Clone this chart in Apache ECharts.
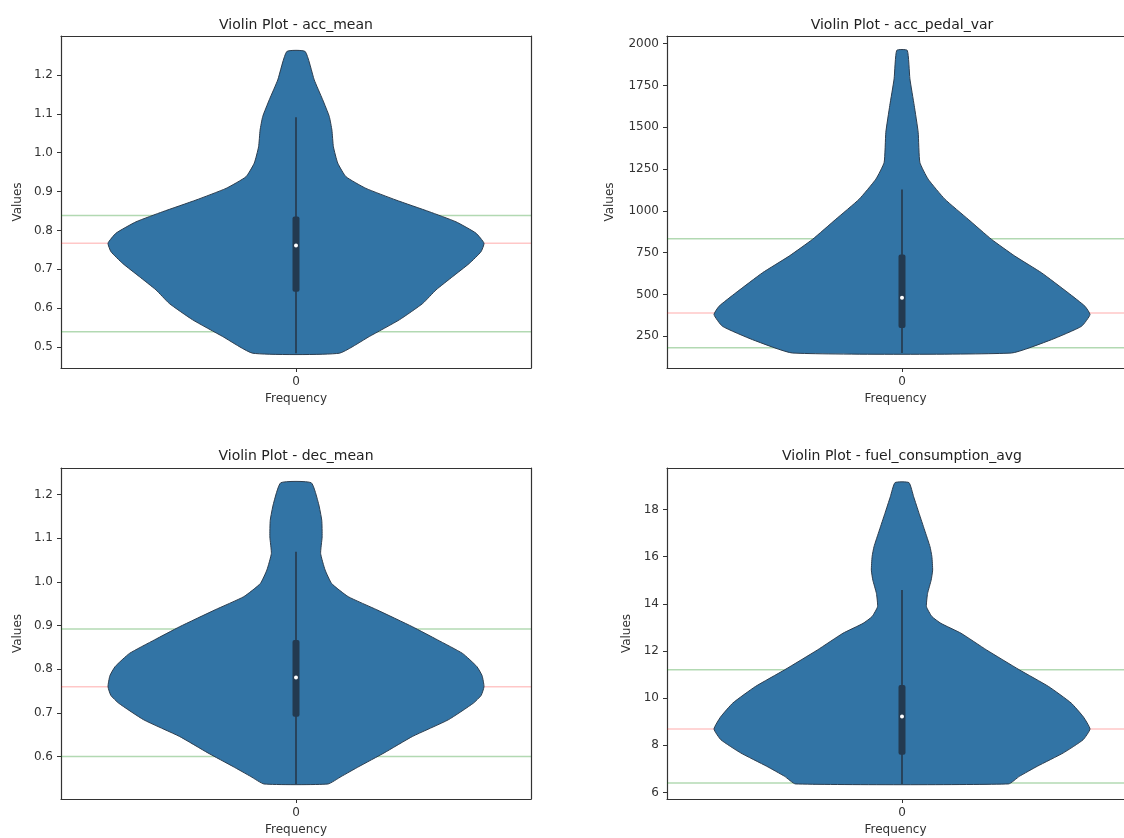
<!DOCTYPE html>
<html>
<head>
<meta charset="utf-8">
<script src="https://cdn.jsdelivr.net/npm/echarts@6/dist/echarts.min.js"></script>
<style>
html,body{margin:0;padding:0;background:#ffffff;}
#chart{width:1124px;height:838px;}
</style>
</head>
<body>
<div id="chart"></div>
<script>
// ---------- data ----------
const panelTitles = ['Violin Plot - acc_mean', 'Violin Plot - acc_pedal_var', 'Violin Plot - dec_mean', 'Violin Plot - fuel_consumption_avg'];
const categories = ['0'];

// violin outlines: value levels and relative half-width (1 = widest)
const accMeanLevels = [1.260,1.187,1.136,1.093,1.058,1.015,0.973,0.938,0.908,0.878,0.848,0.822,0.793,0.767,0.745,0.715,0.681,0.647,0.612,0.570,0.527,0.484];
const accMeanWidth  = [0.049,0.097,0.142,0.177,0.191,0.199,0.222,0.266,0.372,0.532,0.709,0.851,0.957,1.000,0.984,0.922,0.833,0.745,0.674,0.550,0.390,0.230];

const accPedalLevels = [1960,1790,1630,1470,1290,1190,1070,950,830,730,630,510,430,380,310,230,150];
const accPedalWidth  = [0.028,0.042,0.065,0.086,0.095,0.139,0.228,0.352,0.476,0.600,0.742,0.884,0.973,1.000,0.955,0.795,0.582];

const decMeanLevels = [1.227,1.179,1.141,1.103,1.065,1.027,0.996,0.966,0.936,0.897,0.867,0.836,0.806,0.785,0.760,0.740,0.722,0.684,0.646,0.608,0.577,0.554,0.537];
const decMeanWidth  = [0.081,0.120,0.137,0.139,0.131,0.155,0.190,0.278,0.430,0.620,0.753,0.886,0.962,0.990,1.000,0.985,0.943,0.810,0.620,0.468,0.335,0.240,0.170];

const fuelLevels = [19.14,18.54,17.83,17.13,16.42,16.00,15.43,15.00,14.44,13.88,13.46,13.17,12.75,12.04,11.20,10.49,9.79,9.20,8.69,8.23,7.67,7.11,6.68,6.36];
const fuelWidth  = [0.037,0.062,0.091,0.120,0.149,0.159,0.163,0.155,0.136,0.130,0.159,0.207,0.314,0.450,0.624,0.780,0.900,0.965,1.000,0.963,0.857,0.720,0.624,0.567];

// inner box: [whisker low, q1, median, q3, whisker high]
const accMeanBox  = [0.484, 0.642, 0.761, 0.836, 1.091];
const accPedalBox = [150, 300, 480, 739, 1128];
const decMeanBox  = [0.537, 0.691, 0.781, 0.867, 1.069];
const fuelBox     = [6.36, 7.60, 9.22, 10.56, 14.58];

// horizontal reference lines: [upper green, red, lower green]
const accMeanLines  = [0.838, 0.767, 0.539];
const accPedalLines = [833, 390, 181];
const decMeanLines  = [0.892, 0.760, 0.600];
const fuelLines     = [11.20, 8.69, 6.40];

// y tick labels
const accMeanTicks  = [0.5,0.6,0.7,0.8,0.9,1.0,1.1,1.2];
const accPedalTicks = [250,500,750,1000,1250,1500,1750,2000];
const decMeanTicks  = [0.6,0.7,0.8,0.9,1.0,1.1,1.2];
const fuelTicks     = [6,8,10,12,14,16,18];

// y axis limits
const yMins = [0.446, 60.5, 0.5026, 5.72];
const yMaxs = [1.300, 2046, 1.2608, 19.76];

// ---------- layout ----------
const CANVAS_W = 1124;
const FULL_W = 470;          // full axes width (right-hand panels are cut by the page edge)
const grids = [
  {left: 61,  top: 36,  height: 332},
  {left: 667, top: 36,  height: 332},
  {left: 61,  top: 468, height: 331},
  {left: 667, top: 468, height: 331}
];
const cutRight = [false, true, false, true];
const titleTops = [18, 18, 449, 449];
const yNameGaps = [37, 51, 37, 34];
const decimals = [1, 0, 1, 0];

const panels = [
  {levels: accMeanLevels, width: accMeanWidth, box: accMeanBox, lines: accMeanLines, ticks: accMeanTicks},
  {levels: accPedalLevels, width: accPedalWidth, box: accPedalBox, lines: accPedalLines, ticks: accPedalTicks},
  {levels: decMeanLevels, width: decMeanWidth, box: decMeanBox, lines: decMeanLines, ticks: decMeanTicks},
  {levels: fuelLevels, width: fuelWidth, box: fuelBox, lines: fuelLines, ticks: fuelTicks}
];

const FONT = 'DejaVu Sans';
const VIOLIN_FILL = '#3274a5';
const VIOLIN_EDGE = '#2c3e50';
const FRAME = '#333333';
const HALF = 0.4;

function violinRenderer(levels, widths) {
  return function (params, api) {
    const leftSide = [], rightSide = [];
    for (let i = 0; i < levels.length; i++) {
      leftSide.push(api.coord([-HALF * widths[i], levels[i]]));
      rightSide.push(api.coord([HALF * widths[i], levels[i]]));
    }
    const pts = leftSide.concat(rightSide.reverse());
    return {
      type: 'polygon',
      shape: {points: pts, smooth: 0.15},
      style: {fill: VIOLIN_FILL, stroke: VIOLIN_EDGE, lineWidth: 1}
    };
  };
}

function boxRenderer(box) {
  return function (params, api) {
    const wLo = api.coord([0, box[0]]);
    const q1 = api.coord([0, box[1]]);
    const med = api.coord([0, box[2]]);
    const q3 = api.coord([0, box[3]]);
    const wHi = api.coord([0, box[4]]);
    return {
      type: 'group',
      children: [
        {type: 'line', shape: {x1: wLo[0], y1: wLo[1], x2: wHi[0], y2: wHi[1]},
         style: {stroke: '#26384a', lineWidth: 1.6}},
        {type: 'rect', shape: {x: q3[0] - 3.5, y: q3[1], width: 7, height: q1[1] - q3[1], r: 2},
         style: {fill: '#233a50'}},
        {type: 'circle', shape: {cx: med[0], cy: med[1], r: 2},
         style: {fill: '#ffffff'}}
      ]
    };
  };
}

const option = {
  backgroundColor: '#ffffff',
  animation: false,
  title: [],
  grid: [],
  xAxis: [],
  yAxis: [],
  series: []
};

const frameLine = {show: true, onZero: false, lineStyle: {color: FRAME, width: 1.2}};

panels.forEach((p, i) => {
  const g = grids[i];
  const centerX = g.left + FULL_W / 2;
  const visibleW = cutRight[i] ? (CANVAS_W - g.left) : FULL_W;
  const xMax = visibleW / FULL_W - 0.5;

  option.title.push({
    text: panelTitles[i],
    left: centerX,
    top: titleTops[i],
    textAlign: 'center',
    padding: 0,
    textStyle: {fontFamily: FONT, fontSize: 14, fontWeight: 'normal', color: '#222'}
  });
  option.grid.push({left: g.left, top: g.top, width: visibleW, height: g.height, show: false, containLabel: false});

  // bottom axis (with tick and label)
  option.xAxis.push({
    type: 'value', gridIndex: i, min: -0.5, max: xMax, position: 'bottom',
    name: 'Frequency', nameLocation: 'middle', nameGap: 25,
    nameTextStyle: {fontFamily: FONT, fontSize: 12, color: '#333'},
    axisLine: frameLine,
    splitLine: {show: false},
    axisTick: {show: true, inside: false, length: 4, customValues: [0], lineStyle: {color: FRAME}},
    axisLabel: {show: true, margin: 8, customValues: [0], formatter: () => categories[0],
      fontFamily: FONT, fontSize: 12, color: '#333'}
  });
  // left axis
  option.yAxis.push({
    type: 'value', gridIndex: i, min: yMins[i], max: yMaxs[i], position: 'left',
    name: 'Values', nameLocation: 'middle', nameGap: yNameGaps[i], nameRotate: 90,
    nameTextStyle: {fontFamily: FONT, fontSize: 12, color: '#333'},
    axisLine: frameLine,
    splitLine: {show: false},
    axisTick: {show: true, inside: false, length: 4, customValues: p.ticks, lineStyle: {color: FRAME}},
    axisLabel: {show: true, margin: 8, customValues: p.ticks,
      formatter: (v) => Number(v).toFixed(decimals[i]),
      fontFamily: FONT, fontSize: 12, color: '#333'}
  });
  const xIdx = i, yIdx = i;
  option.series.push(null); // placeholder removed below
  option.series.pop();

  const lineColors = ['rgba(0,128,0,0.3)', 'rgba(255,0,0,0.22)', 'rgba(0,128,0,0.3)'];
  p.lines.forEach((v, k) => {
    option.series.push({
      type: 'line', xAxisIndex: xIdx, yAxisIndex: yIdx, z: 1,
      data: [[-0.5, v], [0.5, v]],
      showSymbol: false, symbol: 'none', silent: true,
      lineStyle: {color: lineColors[k], width: 1.5}
    });
  });
  option.series.push({
    type: 'custom', xAxisIndex: xIdx, yAxisIndex: yIdx, z: 2,
    renderItem: violinRenderer(p.levels, p.width),
    data: [[0, p.box[2]]],
    silent: true
  });
  option.series.push({
    type: 'custom', xAxisIndex: xIdx, yAxisIndex: yIdx, z: 3,
    renderItem: boxRenderer(p.box),
    data: [[0, p.box[2]]],
    silent: true
  });
});

// frame-only axes (top spine for every panel, right spine for uncut panels)
panels.forEach((p, i) => {
  const g = grids[i];
  const visibleW = cutRight[i] ? (CANVAS_W - g.left) : FULL_W;
  option.xAxis.push({
    type: 'value', gridIndex: i, min: -0.5, max: visibleW / FULL_W - 0.5, position: 'top',
    axisLine: frameLine, axisTick: {show: false}, axisLabel: {show: false}, splitLine: {show: false}
  });
  if (!cutRight[i]) {
    option.yAxis.push({
      type: 'value', gridIndex: i, min: yMins[i], max: yMaxs[i], position: 'right',
      axisLine: frameLine, axisTick: {show: false}, axisLabel: {show: false}, splitLine: {show: false}
    });
  }
});

const chart = echarts.init(document.getElementById('chart'), null, {renderer: 'canvas'});
chart.setOption(option);
</script>
</body>
</html>
